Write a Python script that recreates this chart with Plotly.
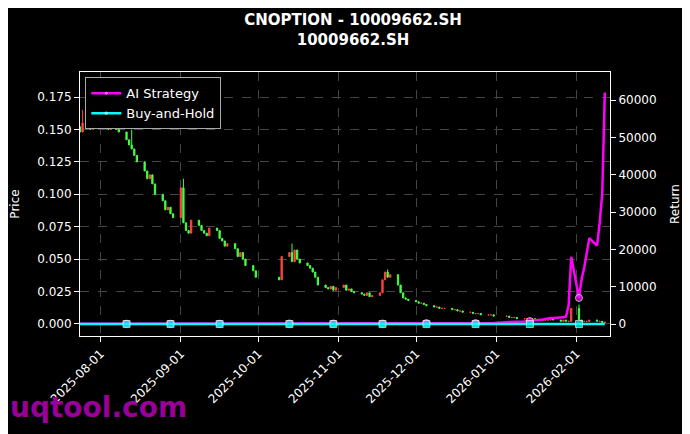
import pandas as pd
import plotly.graph_objects as go

# trading days (CN calendar, Oct golden week and new-year off)
days = pd.bdate_range("2025-07-24", "2026-02-12")
days = days[~((days >= "2025-10-01") & (days <= "2025-10-08"))]
days = days[~((days >= "2026-01-01") & (days <= "2026-01-02"))]

close = [
    .152, .148, .155, .150, .153, .151,
    .153, .155, .150, .152, .158, .150, .148, .142, .138, .135, .130,
    .125, .118, .112, .115, .108, .100, .095, .088, .090, .085,
    .082, .105, .078, .072, .070, .080, .076, .072, .070, .068,
    .074, .072, .066, .064, .060, .062, .058, .052, .055, .050, .045, .041,
    .036, .034, .052, .055, .048, .057, .050, .047, .045, .043, .040, .036,
    .030, .028, .027, .029, .026,
    .028, .030, .026, .027, .025, .024, .023, .022, .024, .021,
    .022, .024, .034, .040, .036, .038, .030, .024, .020, .019,
    .018, .017, .016, .016, .015, .014, .013, .013, .012, .012,
    .012, .011, .011, .010, .010, .009, .009, .008, .008, .008, .007, .007, .007,
    .006, .006, .005, .005, .005, .004, .004, .004, .004, .004,
    .003, .003, .003, .003, .004, .003, .002, .003, .002, .002,
    .012, .003, .002, .002, .002, .003, .002, .002, .001,
]
# gap-down opens: each day opens near the next day's close
open_ = close[1:] + [.0015]
# wick extremes on notable days
spikes = {1: .165, 14: .150, 28: .112, 52: .062, 79: .042, 129: .015}

strat_pre_jan = [100] * 40 + [150] * 40 + [250] * 29
strat_jan = [500, 500, 600, 600, 700, 700, 800, 800, 900, 1000,
             1200, 1400, 1500, 1600, 1600, 1700, 1800, 2000, 5000, 18000]
strat_feb = [7000, 12000, 15000, 19000, 23000, 21000, 27000, 35000, 62000]
strategy = strat_pre_jan + strat_jan + strat_feb
buy_hold = [c / close[0] - 1 for c in close]

high = [max(o, c) for o, c in zip(open_, close)]
low = [min(o, c) for o, c in zip(open_, close)]
for i, h in spikes.items():
    high[i] = h

fig = go.Figure()
fig.add_trace(go.Candlestick(
    x=days, open=open_, high=high, low=low, close=close, showlegend=False,
    increasing=dict(line=dict(color="#44ff44", width=1), fillcolor="#44ff44"),
    decreasing=dict(line=dict(color="#ff4444", width=1), fillcolor="#ff4444"),
    whiskerwidth=0))
mk = list(range(12, len(days), 13))
msize = [7 if i in mk else 0 for i in range(len(days))]
fig.add_trace(go.Scatter(x=days, y=strategy, yaxis="y2", name="AI Strategy", mode="lines+markers",
                         line=dict(color="#ff00ff", width=2.5),
                         marker=dict(size=msize, color="#ff00ff")))
fig.add_trace(go.Scatter(x=days, y=buy_hold, yaxis="y2", name="Buy-and-Hold", mode="lines+markers",
                         line=dict(color="#00ffff", width=2.5),
                         marker=dict(size=msize, color="#00ffff", symbol="square")))

grid = dict(showgrid=True, gridcolor="#444", griddash="dash", gridwidth=0.6, zeroline=False,
            showline=True, linecolor="white", mirror=True, ticks="outside", tickcolor="white",
            automargin=False)
fig.update_layout(
    width=690, height=434, paper_bgcolor="black", plot_bgcolor="black",
    font=dict(family="DejaVu Sans", color="white", size=12),
    margin=dict(l=72, r=88, t=64, b=106),
    title=dict(text="<b>CNOPTION - 10009662.SH<br>10009662.SH</b>", x=0.5, y=0.96, xanchor="center",
               yanchor="top", font=dict(size=15)),
    xaxis=dict(grid, range=["2025-07-24", "2026-02-14"], rangeslider=dict(visible=False),
               tickformat="%Y-%m-%d", tickangle=-45, dtick="M1", tick0="2025-08-01"),
    yaxis=dict(grid, title=dict(text="Price", font=dict(size=12)), range=[-0.0093, 0.1943],
               tickformat=".3f", dtick=0.025),
    yaxis2=dict(overlaying="y", side="right", title=dict(text="Return", font=dict(size=12)),
                range=[-3200, 67500], dtick=10000, tickformat="d", automargin=False,
                showgrid=False, zeroline=False, ticks="outside", tickcolor="white"),
    legend=dict(x=0.01, y=0.98, bgcolor="black", bordercolor="#aaa", borderwidth=1, font=dict(size=13)),
    annotations=[dict(text="<b>uqtool.com</b>", xref="paper", yref="paper", x=-0.135, y=-0.34,
                      xanchor="left", yanchor="bottom", showarrow=False,
                      font=dict(size=28, color="#990099"))],
)
fig.write_html("out.html")
